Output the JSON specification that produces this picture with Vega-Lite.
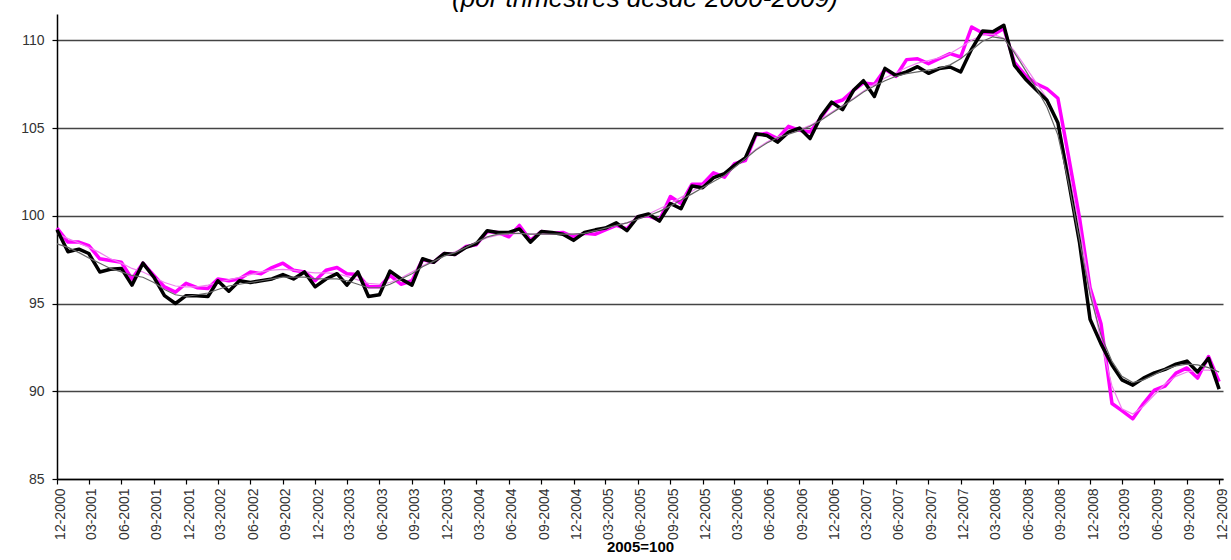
{
  "$schema": "https://vega.github.io/schema/vega-lite/v6.json",
  "width": 1166,
  "height": 465,
  "autosize": {"type": "none"},
  "padding": {"left": 57, "top": 14, "right": 8, "bottom": 81},
  "background": "white",
  "config": {"view": {"stroke": null}, "font": "Liberation Sans"},
  "title": {"text": "(por trimestres desde 2000-2009)", "fontSize": 26, "fontStyle": "italic", "fontWeight": "normal", "font": "Liberation Sans", "color": "#000", "anchor": "middle", "baseline": "alphabetic", "offset": -19, "dx": 5},
  "data": {"values": [
    {"mes": "2000-12", "negro": 99.2, "rosa": 99.3, "tend_negro": 98.4, "tend_rosa": 99.0},
    {"mes": "2001-01", "negro": 97.95, "rosa": 98.5, "tend_negro": 98.2, "tend_rosa": 98.7},
    {"mes": "2001-02", "negro": 98.1, "rosa": 98.5, "tend_negro": 97.9, "tend_rosa": 98.45},
    {"mes": "2001-03", "negro": 97.85, "rosa": 98.3, "tend_negro": 97.6, "tend_rosa": 98.2},
    {"mes": "2001-04", "negro": 96.8, "rosa": 97.55, "tend_negro": 97.3, "tend_rosa": 97.9},
    {"mes": "2001-05", "negro": 96.95, "rosa": 97.45, "tend_negro": 97.0, "tend_rosa": 97.55},
    {"mes": "2001-06", "negro": 97.0, "rosa": 97.35, "tend_negro": 96.8, "tend_rosa": 97.3},
    {"mes": "2001-07", "negro": 96.05, "rosa": 96.4, "tend_negro": 96.6, "tend_rosa": 97.0},
    {"mes": "2001-08", "negro": 97.3, "rosa": 97.3, "tend_negro": 96.5, "tend_rosa": 96.8},
    {"mes": "2001-09", "negro": 96.5, "rosa": 96.6, "tend_negro": 96.2, "tend_rosa": 96.5},
    {"mes": "2001-10", "negro": 95.45, "rosa": 95.95, "tend_negro": 95.8, "tend_rosa": 96.2},
    {"mes": "2001-11", "negro": 95.0, "rosa": 95.65, "tend_negro": 95.5, "tend_rosa": 96.0},
    {"mes": "2001-12", "negro": 95.45, "rosa": 96.15, "tend_negro": 95.4, "tend_rosa": 95.95},
    {"mes": "2002-01", "negro": 95.45, "rosa": 95.9, "tend_negro": 95.5, "tend_rosa": 95.95},
    {"mes": "2002-02", "negro": 95.4, "rosa": 95.85, "tend_negro": 95.6, "tend_rosa": 96.05},
    {"mes": "2002-03", "negro": 96.3, "rosa": 96.4, "tend_negro": 95.8, "tend_rosa": 96.2},
    {"mes": "2002-04", "negro": 95.7, "rosa": 96.3, "tend_negro": 96.0, "tend_rosa": 96.35},
    {"mes": "2002-05", "negro": 96.3, "rosa": 96.4, "tend_negro": 96.1, "tend_rosa": 96.5},
    {"mes": "2002-06", "negro": 96.2, "rosa": 96.8, "tend_negro": 96.2, "tend_rosa": 96.65},
    {"mes": "2002-07", "negro": 96.3, "rosa": 96.7, "tend_negro": 96.3, "tend_rosa": 96.8},
    {"mes": "2002-08", "negro": 96.4, "rosa": 97.05, "tend_negro": 96.4, "tend_rosa": 96.9},
    {"mes": "2002-09", "negro": 96.65, "rosa": 97.3, "tend_negro": 96.5, "tend_rosa": 96.95},
    {"mes": "2002-10", "negro": 96.4, "rosa": 96.9, "tend_negro": 96.5, "tend_rosa": 96.9},
    {"mes": "2002-11", "negro": 96.8, "rosa": 96.8, "tend_negro": 96.5, "tend_rosa": 96.8},
    {"mes": "2002-12", "negro": 95.95, "rosa": 96.3, "tend_negro": 96.4, "tend_rosa": 96.75},
    {"mes": "2003-01", "negro": 96.4, "rosa": 96.9, "tend_negro": 96.4, "tend_rosa": 96.75},
    {"mes": "2003-02", "negro": 96.7, "rosa": 97.05, "tend_negro": 96.4, "tend_rosa": 96.7},
    {"mes": "2003-03", "negro": 96.05, "rosa": 96.7, "tend_negro": 96.3, "tend_rosa": 96.55},
    {"mes": "2003-04", "negro": 96.8, "rosa": 96.65, "tend_negro": 96.1, "tend_rosa": 96.35},
    {"mes": "2003-05", "negro": 95.4, "rosa": 95.95, "tend_negro": 95.9, "tend_rosa": 96.15},
    {"mes": "2003-06", "negro": 95.5, "rosa": 95.95, "tend_negro": 95.9, "tend_rosa": 96.1},
    {"mes": "2003-07", "negro": 96.85, "rosa": 96.6, "tend_negro": 96.1, "tend_rosa": 96.2},
    {"mes": "2003-08", "negro": 96.4, "rosa": 96.1, "tend_negro": 96.4, "tend_rosa": 96.45},
    {"mes": "2003-09", "negro": 96.05, "rosa": 96.3, "tend_negro": 96.7, "tend_rosa": 96.8},
    {"mes": "2003-10", "negro": 97.55, "rosa": 97.5, "tend_negro": 97.1, "tend_rosa": 97.15},
    {"mes": "2003-11", "negro": 97.35, "rosa": 97.35, "tend_negro": 97.4, "tend_rosa": 97.45},
    {"mes": "2003-12", "negro": 97.85, "rosa": 97.85, "tend_negro": 97.7, "tend_rosa": 97.75},
    {"mes": "2004-01", "negro": 97.8, "rosa": 97.8, "tend_negro": 97.9, "tend_rosa": 97.95},
    {"mes": "2004-02", "negro": 98.2, "rosa": 98.25, "tend_negro": 98.2, "tend_rosa": 98.25},
    {"mes": "2004-03", "negro": 98.4, "rosa": 98.35, "tend_negro": 98.5, "tend_rosa": 98.5},
    {"mes": "2004-04", "negro": 99.15, "rosa": 99.1, "tend_negro": 98.8, "tend_rosa": 98.75},
    {"mes": "2004-05", "negro": 99.05, "rosa": 99.05, "tend_negro": 98.95, "tend_rosa": 98.9},
    {"mes": "2004-06", "negro": 99.05, "rosa": 98.8, "tend_negro": 99.0, "tend_rosa": 98.95},
    {"mes": "2004-07", "negro": 99.25, "rosa": 99.45, "tend_negro": 99.0, "tend_rosa": 99.0},
    {"mes": "2004-08", "negro": 98.5, "rosa": 98.6, "tend_negro": 98.95, "tend_rosa": 98.95},
    {"mes": "2004-09", "negro": 99.1, "rosa": 99.1, "tend_negro": 98.95, "tend_rosa": 98.95},
    {"mes": "2004-10", "negro": 99.05, "rosa": 99.0, "tend_negro": 98.95, "tend_rosa": 98.95},
    {"mes": "2004-11", "negro": 98.95, "rosa": 99.05, "tend_negro": 98.95, "tend_rosa": 98.95},
    {"mes": "2004-12", "negro": 98.6, "rosa": 98.8, "tend_negro": 98.95, "tend_rosa": 98.95},
    {"mes": "2005-01", "negro": 99.05, "rosa": 99.0, "tend_negro": 99.0, "tend_rosa": 99.0},
    {"mes": "2005-02", "negro": 99.2, "rosa": 98.95, "tend_negro": 99.15, "tend_rosa": 99.1},
    {"mes": "2005-03", "negro": 99.3, "rosa": 99.2, "tend_negro": 99.3, "tend_rosa": 99.25},
    {"mes": "2005-04", "negro": 99.6, "rosa": 99.45, "tend_negro": 99.45, "tend_rosa": 99.45},
    {"mes": "2005-05", "negro": 99.15, "rosa": 99.25, "tend_negro": 99.6, "tend_rosa": 99.6},
    {"mes": "2005-06", "negro": 99.95, "rosa": 99.95, "tend_negro": 99.8, "tend_rosa": 99.85},
    {"mes": "2005-07", "negro": 100.1, "rosa": 100.0, "tend_negro": 100.0, "tend_rosa": 100.1},
    {"mes": "2005-08", "negro": 99.7, "rosa": 99.75, "tend_negro": 100.25, "tend_rosa": 100.4},
    {"mes": "2005-09", "negro": 100.7, "rosa": 101.1, "tend_negro": 100.55, "tend_rosa": 100.7},
    {"mes": "2005-10", "negro": 100.4, "rosa": 100.7, "tend_negro": 100.9, "tend_rosa": 101.05},
    {"mes": "2005-11", "negro": 101.7, "rosa": 101.8, "tend_negro": 101.25, "tend_rosa": 101.4},
    {"mes": "2005-12", "negro": 101.6, "rosa": 101.8, "tend_negro": 101.6, "tend_rosa": 101.75},
    {"mes": "2006-01", "negro": 102.17, "rosa": 102.45, "tend_negro": 101.95, "tend_rosa": 102.1},
    {"mes": "2006-02", "negro": 102.4, "rosa": 102.2, "tend_negro": 102.3, "tend_rosa": 102.45},
    {"mes": "2006-03", "negro": 102.87, "rosa": 102.97, "tend_negro": 102.75, "tend_rosa": 102.85},
    {"mes": "2006-04", "negro": 103.3, "rosa": 103.15, "tend_negro": 103.25, "tend_rosa": 103.3},
    {"mes": "2006-05", "negro": 104.68, "rosa": 104.6, "tend_negro": 103.75, "tend_rosa": 103.8},
    {"mes": "2006-06", "negro": 104.58, "rosa": 104.7, "tend_negro": 104.15, "tend_rosa": 104.2},
    {"mes": "2006-07", "negro": 104.2, "rosa": 104.4, "tend_negro": 104.45, "tend_rosa": 104.5},
    {"mes": "2006-08", "negro": 104.77, "rosa": 105.1, "tend_negro": 104.65, "tend_rosa": 104.7},
    {"mes": "2006-09", "negro": 105.0, "rosa": 104.87, "tend_negro": 104.85, "tend_rosa": 104.9},
    {"mes": "2006-10", "negro": 104.4, "rosa": 104.77, "tend_negro": 105.1, "tend_rosa": 105.15},
    {"mes": "2006-11", "negro": 105.67, "rosa": 105.6, "tend_negro": 105.45, "tend_rosa": 105.5},
    {"mes": "2006-12", "negro": 106.48, "rosa": 106.4, "tend_negro": 105.85, "tend_rosa": 105.9},
    {"mes": "2007-01", "negro": 106.05, "rosa": 106.6, "tend_negro": 106.25, "tend_rosa": 106.3},
    {"mes": "2007-02", "negro": 107.15, "rosa": 107.15, "tend_negro": 106.65, "tend_rosa": 106.7},
    {"mes": "2007-03", "negro": 107.7, "rosa": 107.57, "tend_negro": 107.05, "tend_rosa": 107.1},
    {"mes": "2007-04", "negro": 106.8, "rosa": 107.5, "tend_negro": 107.4, "tend_rosa": 107.5},
    {"mes": "2007-05", "negro": 108.4, "rosa": 108.35, "tend_negro": 107.7, "tend_rosa": 107.85},
    {"mes": "2007-06", "negro": 108.0, "rosa": 107.95, "tend_negro": 107.95, "tend_rosa": 108.15},
    {"mes": "2007-07", "negro": 108.2, "rosa": 108.9, "tend_negro": 108.1, "tend_rosa": 108.45},
    {"mes": "2007-08", "negro": 108.5, "rosa": 108.95, "tend_negro": 108.2, "tend_rosa": 108.7},
    {"mes": "2007-09", "negro": 108.12, "rosa": 108.67, "tend_negro": 108.3, "tend_rosa": 108.85},
    {"mes": "2007-10", "negro": 108.39, "rosa": 108.95, "tend_negro": 108.4, "tend_rosa": 109.0},
    {"mes": "2007-11", "negro": 108.48, "rosa": 109.24, "tend_negro": 108.6, "tend_rosa": 109.25},
    {"mes": "2007-12", "negro": 108.2, "rosa": 109.05, "tend_negro": 108.95, "tend_rosa": 109.6},
    {"mes": "2008-01", "negro": 109.5, "rosa": 110.76, "tend_negro": 109.45, "tend_rosa": 110.0},
    {"mes": "2008-02", "negro": 110.53, "rosa": 110.42, "tend_negro": 109.95, "tend_rosa": 110.3},
    {"mes": "2008-03", "negro": 110.49, "rosa": 110.3, "tend_negro": 110.2, "tend_rosa": 110.35},
    {"mes": "2008-04", "negro": 110.86, "rosa": 110.67, "tend_negro": 110.1, "tend_rosa": 110.1},
    {"mes": "2008-05", "negro": 108.57, "rosa": 108.75, "tend_negro": 109.3, "tend_rosa": 109.4},
    {"mes": "2008-06", "negro": 107.8, "rosa": 108.0, "tend_negro": 108.3, "tend_rosa": 108.5},
    {"mes": "2008-07", "negro": 107.2, "rosa": 107.53, "tend_negro": 107.3, "tend_rosa": 107.6},
    {"mes": "2008-08", "negro": 106.58, "rosa": 107.24, "tend_negro": 106.2, "tend_rosa": 106.7},
    {"mes": "2008-09", "negro": 105.3, "rosa": 106.7, "tend_negro": 104.6, "tend_rosa": 105.3},
    {"mes": "2008-10", "negro": 102.0, "rosa": 103.4, "tend_negro": 101.9, "tend_rosa": 102.6},
    {"mes": "2008-11", "negro": 98.5, "rosa": 99.9, "tend_negro": 98.6, "tend_rosa": 99.3},
    {"mes": "2008-12", "negro": 94.1, "rosa": 95.9, "tend_negro": 95.5, "tend_rosa": 95.9},
    {"mes": "2009-01", "negro": 92.7, "rosa": 93.85, "tend_negro": 93.2, "tend_rosa": 92.8},
    {"mes": "2009-02", "negro": 91.5, "rosa": 89.3, "tend_negro": 91.7, "tend_rosa": 90.3},
    {"mes": "2009-03", "negro": 90.65, "rosa": 88.9, "tend_negro": 90.85, "tend_rosa": 89.0},
    {"mes": "2009-04", "negro": 90.35, "rosa": 88.43, "tend_negro": 90.5, "tend_rosa": 88.7},
    {"mes": "2009-05", "negro": 90.75, "rosa": 89.3, "tend_negro": 90.65, "tend_rosa": 89.15},
    {"mes": "2009-06", "negro": 91.05, "rosa": 90.07, "tend_negro": 90.95, "tend_rosa": 89.8},
    {"mes": "2009-07", "negro": 91.25, "rosa": 90.3, "tend_negro": 91.25, "tend_rosa": 90.4},
    {"mes": "2009-08", "negro": 91.55, "rosa": 91.03, "tend_negro": 91.45, "tend_rosa": 90.85},
    {"mes": "2009-09", "negro": 91.72, "rosa": 91.33, "tend_negro": 91.55, "tend_rosa": 91.1},
    {"mes": "2009-10", "negro": 91.1, "rosa": 90.75, "tend_negro": 91.5, "tend_rosa": 91.2},
    {"mes": "2009-11", "negro": 91.88, "rosa": 91.98, "tend_negro": 91.35, "tend_rosa": 91.2},
    {"mes": "2009-12", "negro": 90.12, "rosa": 90.55, "tend_negro": 91.1, "tend_rosa": 91.1}
  ]},
  "transform": [{"fold": ["rosa", "tend_rosa", "negro", "tend_negro"], "as": ["serie", "valor"]}],
  "encoding": {
    "x": {
      "field": "mes", "type": "temporal",
      "scale": {"type": "utc", "domain": [{"year": 2000, "month": 12, "date": 1, "utc": true}, {"year": 2009, "month": 12, "date": 12, "utc": true}]},
      "axis": {
        "values": [
          {"year": 2000, "month": 12, "date": 1, "utc": true},
          {"year": 2001, "month": 3, "date": 1, "utc": true}, {"year": 2001, "month": 6, "date": 1, "utc": true}, {"year": 2001, "month": 9, "date": 1, "utc": true}, {"year": 2001, "month": 12, "date": 1, "utc": true},
          {"year": 2002, "month": 3, "date": 1, "utc": true}, {"year": 2002, "month": 6, "date": 1, "utc": true}, {"year": 2002, "month": 9, "date": 1, "utc": true}, {"year": 2002, "month": 12, "date": 1, "utc": true},
          {"year": 2003, "month": 3, "date": 1, "utc": true}, {"year": 2003, "month": 6, "date": 1, "utc": true}, {"year": 2003, "month": 9, "date": 1, "utc": true}, {"year": 2003, "month": 12, "date": 1, "utc": true},
          {"year": 2004, "month": 3, "date": 1, "utc": true}, {"year": 2004, "month": 6, "date": 1, "utc": true}, {"year": 2004, "month": 9, "date": 1, "utc": true}, {"year": 2004, "month": 12, "date": 1, "utc": true},
          {"year": 2005, "month": 3, "date": 1, "utc": true}, {"year": 2005, "month": 6, "date": 1, "utc": true}, {"year": 2005, "month": 9, "date": 1, "utc": true}, {"year": 2005, "month": 12, "date": 1, "utc": true},
          {"year": 2006, "month": 3, "date": 1, "utc": true}, {"year": 2006, "month": 6, "date": 1, "utc": true}, {"year": 2006, "month": 9, "date": 1, "utc": true}, {"year": 2006, "month": 12, "date": 1, "utc": true},
          {"year": 2007, "month": 3, "date": 1, "utc": true}, {"year": 2007, "month": 6, "date": 1, "utc": true}, {"year": 2007, "month": 9, "date": 1, "utc": true}, {"year": 2007, "month": 12, "date": 1, "utc": true},
          {"year": 2008, "month": 3, "date": 1, "utc": true}, {"year": 2008, "month": 6, "date": 1, "utc": true}, {"year": 2008, "month": 9, "date": 1, "utc": true}, {"year": 2008, "month": 12, "date": 1, "utc": true},
          {"year": 2009, "month": 3, "date": 1, "utc": true}, {"year": 2009, "month": 6, "date": 1, "utc": true}, {"year": 2009, "month": 9, "date": 1, "utc": true}, {"year": 2009, "month": 12, "date": 1, "utc": true}
        ],
        "labelExpr": "utcFormat(datum.value, '%m-%Y')",
        "labelAngle": -90, "labelFontSize": 14, "labelColor": "#333", "labelPadding": 4, "labelOffset": 3,
        "labelFlush": false, "labelOverlap": false, "labelBound": false,
        "tickSize": 5, "tickColor": "#000", "tickWidth": 1.2,
        "domainColor": "#000", "domainWidth": 1.5, "grid": false,
        "title": "2005=100", "titleFontSize": 15, "titleFontWeight": "bold", "titleColor": "#000", "titlePadding": 0
      }
    },
    "y": {
      "field": "valor", "type": "quantitative",
      "scale": {"domain": [85, 111.5], "nice": false, "zero": false},
      "axis": {
        "values": [85, 90, 95, 100, 105, 110],
        "grid": true, "gridColor": "#444", "gridWidth": 1.5,
        "domainColor": "#000", "domainWidth": 1.5,
        "tickSize": 5, "tickColor": "#000", "tickWidth": 1.2,
        "labelFontSize": 14, "labelColor": "#333", "labelPadding": 8,
        "title": null
      }
    }
  },
  "layer": [
    {"transform": [{"filter": "datum.serie == 'rosa'"}], "mark": {"type": "line", "color": "#ff00ff", "strokeWidth": 3.5, "strokeJoin": "round"}},
    {"transform": [{"filter": "datum.serie == 'tend_rosa'"}], "mark": {"type": "line", "color": "#f080f0", "strokeWidth": 1.2}},
    {"transform": [{"filter": "datum.serie == 'negro'"}], "mark": {"type": "line", "color": "#000000", "strokeWidth": 3.5, "strokeJoin": "round"}},
    {"transform": [{"filter": "datum.serie == 'tend_negro'"}], "mark": {"type": "line", "color": "#666666", "strokeWidth": 1.2}}
  ]
}
